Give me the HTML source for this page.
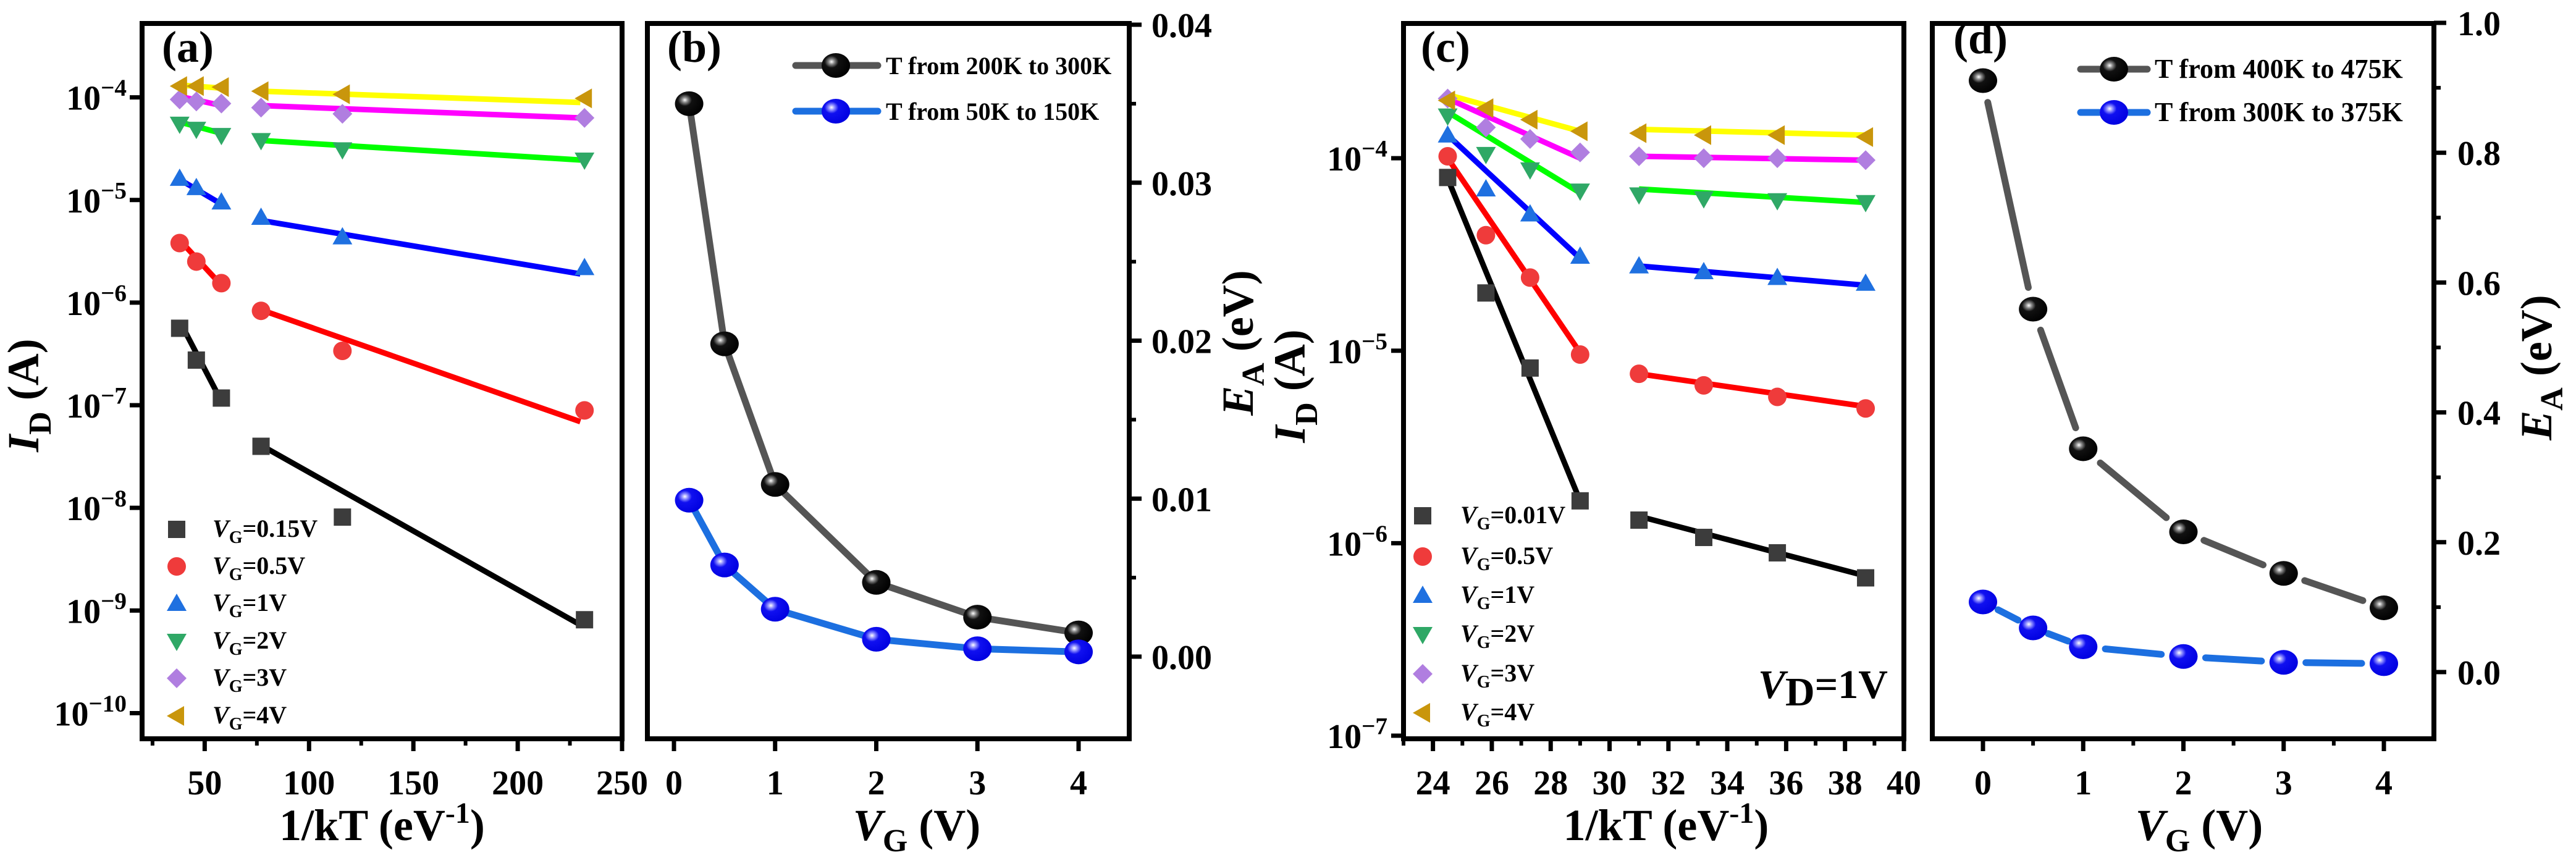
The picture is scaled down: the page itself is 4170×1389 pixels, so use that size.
<!DOCTYPE html>
<html><head><meta charset="utf-8"><style>
html,body{margin:0;padding:0;background:#fff;}
svg{display:block;font-family:"Liberation Serif",serif;font-weight:bold;}
</style></head><body>
<svg id="fig" width="4170" height="1389" viewBox="0 0 4170 1389" xmlns="http://www.w3.org/2000/svg">
<defs>
<radialGradient id="gBlack" cx="0.35" cy="0.35" r="0.7"><stop offset="0" stop-color="#fff"/><stop offset="0.15" stop-color="#888"/><stop offset="0.35" stop-color="#111"/><stop offset="1" stop-color="#000"/></radialGradient>
<radialGradient id="gBlue" cx="0.35" cy="0.35" r="0.7"><stop offset="0" stop-color="#fff"/><stop offset="0.15" stop-color="#9090ff"/><stop offset="0.35" stop-color="#1010f0"/><stop offset="1" stop-color="#0000e0"/></radialGradient>
</defs>
</svg>
<script>
// ---------- Panel (a) data ----------
const aX = [38, 46, 58, 77, 116, 232];
const aSeriesNames = ["0.15V","0.5V","1V","2V","3V","4V"];
const aLog015 = [-6.25,-6.56,-6.93,-7.40,-8.09,-9.09];
const aLog05  = [-5.42,-5.60,-5.81,-6.08,-6.47,-7.05];
const aLog1   = [-4.79,-4.88,-5.02,-5.17,-5.36,-5.66];
const aLog2   = [-4.26,-4.31,-4.37,-4.42,-4.51,-4.61];
const aLog3   = [-4.02,-4.04,-4.06,-4.10,-4.16,-4.20];
const aLog4   = [-3.89,-3.89,-3.90,-3.94,-3.97,-4.01];
const aFitX1 = [38,58]; const aFitX2 = [77,230];
const aFit1Log = [[-6.18,-6.96],[-5.39,-5.83],[-4.80,-5.04],[-4.24,-4.35],[-3.99,-4.08],[-3.88,-3.91]];
const aFit2Log = [[-7.39,-9.14],[-6.07,-7.16],[-5.20,-5.72],[-4.42,-4.61],[-4.08,-4.20],[-3.94,-4.05]];
const aXTicks = [50,100,150,200,250];
const aYTicks = [-10,-9,-8,-7,-6,-5,-4];
// ---------- Panel (b) data ----------
const bX = [0.15,0.5,1,2,3,4];
const bHigh = [0.0350,0.0198,0.0109,0.0047,0.0025,0.0015];
const bLow  = [0.0099,0.0058,0.0030,0.0011,0.0005,0.0003];
const bXTicks = [0,1,2,3,4];
const bYTicks = [0,0.01,0.02,0.03,0.04];
const bYTickLabels = ["0.00","0.01","0.02","0.03","0.04"];
// ---------- Panel (c) data ----------
const cX = [24.5,25.8,27.3,29.0,31.0,33.2,35.7,38.7];
const cSeriesNames = ["0.01V","0.5V","1V","2V","3V","4V"];
const cLog001 = [-4.10,-4.70,-5.09,-5.78,-5.88,-5.97,-6.05,-6.18];
const cLog05  = [-3.99,-4.40,-4.62,-5.02,-5.12,-5.18,-5.24,-5.30];
const cLog1   = [-3.88,-4.16,-4.29,-4.51,-4.56,-4.59,-4.62,-4.65];
const cLog2   = [-3.78,-3.98,-4.06,-4.17,-4.19,-4.21,-4.22,-4.23];
const cLog3   = [-3.69,-3.84,-3.90,-3.97,-3.99,-4.00,-4.00,-4.01];
const cLog4   = [-3.70,-3.74,-3.80,-3.86,-3.87,-3.88,-3.88,-3.89];
const cFitX1 = [24.5,29.0]; const cFitX2 = [31.0,38.7];
const cFit1Log = [[-4.105,-5.78],[-4.00,-5.01],[-3.88,-4.52],[-3.76,-4.18],[-3.69,-4.00],[-3.67,-3.86]];
const cFit2Log = [[-5.86,-6.17],[-5.12,-5.29],[-4.56,-4.66],[-4.16,-4.23],[-3.99,-4.01],[-3.85,-3.88]];
const cXTicks = [24,26,28,30,32,34,36,38,40];
const cYTicks = [-7,-6,-5,-4];
// ---------- Panel (d) data ----------
const dX = [0,0.5,1,2,3,4];
const dHigh = [0.911,0.559,0.344,0.216,0.152,0.099];
const dLow  = [0.108,0.068,0.039,0.024,0.015,0.013];
const dXTicks = [0,1,2,3,4];
const dYTicks = [0,0.2,0.4,0.6,0.8,1.0];
const dYTickLabels = ["0.0","0.2","0.4","0.6","0.8","1.0"];

const NS="http://www.w3.org/2000/svg";
const svg=document.getElementById('fig');
function el(tag,attrs,parent,txt){const e=document.createElementNS(NS,tag);for(const k in attrs)e.setAttribute(k,attrs[k]);if(txt!==undefined)e.textContent=txt;(parent||svg).appendChild(e);return e;}
function lin(d0,d1,r0,r1){return v=>r0+(v-d0)/(d1-d0)*(r1-r0);}
const TOP=38,BOT=1196,TF=56;

const markerFill=["#3c3c3c","#ef3b3b","#1f70e0","#2fa866","#b07ee0","#c9960c"];
const lineCol=["#000","#ff0000","#0000ff","#00ff00","#ff00ff","#ffff00"];
function marker(g,type,x,y,fill){
  const s=16;let m;
  if(type===0)m=el('rect',{x:x-s+2,y:y-s+2,width:2*s-4,height:2*s-4,fill:fill},g);
  else if(type===1)m=el('circle',{cx:x,cy:y,r:s-1,fill:fill},g);
  else if(type===2)m=el('polygon',{points:`${x},${y-s} ${x+s},${y+s*0.75} ${x-s},${y+s*0.75}`,fill:fill},g);
  else if(type===3)m=el('polygon',{points:`${x},${y+s} ${x+s},${y-s*0.75} ${x-s},${y-s*0.75}`,fill:fill},g);
  else if(type===4)m=el('polygon',{points:`${x},${y-s} ${x+s},${y} ${x},${y+s} ${x-s},${y}`,fill:fill},g);
  else m=el('polygon',{points:`${x-s},${y} ${x+s*0.75},${y-s} ${x+s*0.75},${y+s}`,fill:fill},g);
  
  
  return m;
}
function frame(x0,x1,name){
  const r=el('rect',{x:x0,y:TOP,width:x1-x0,height:BOT-TOP,fill:'none',stroke:'#000','stroke-width':8});
  
}
function label(x,y,txt,size,anchor,name){const t=el('text',{x:x,y:y,'font-size':size,'text-anchor':anchor||'middle'},svg,txt);return t;}
function powLabel(x,y,exp,size,name){
  const t=el('text',{x:x,y:y,'font-size':size,'text-anchor':'end'});
  
  el('tspan',{},t,'10');el('tspan',{dy:-size*0.4,'font-size':size*0.7},t,'\u2212'+Math.abs(exp));
}
function xtitle(cx,y,parts,name){
  const t=el('text',{x:cx,y:y,'font-size':72,'text-anchor':'middle'});
  
  parts.forEach(p=>el('tspan',p.a||{},t,p.s));
}
function rotTitle(cx,cy,parts,name){
  const t=el('text',{x:0,y:0,'font-size':72,'text-anchor':'middle',transform:`translate(${cx},${cy}) rotate(-90)`});
  
  parts.forEach(p=>el('tspan',p.a||{},t,p.s));
}

// ===== Panel (a) =====
(function(){
  const L=230,R=1007;const xs=lin(20,250,L,R);const ys=lin(-3.28,-10.25,TOP,BOT);
  frame(L,R,'panel-a');
  const g=el('g',{});
  aXTicks.forEach(v=>{el('line',{x1:xs(v),x2:xs(v),y1:BOT,y2:BOT+20,stroke:'#000','stroke-width':7},g);label(xs(v),BOT+90,String(v),TF,'middle','x-tick-label');});
  [25,75,125,175,225].forEach(v=>el('line',{x1:xs(v),x2:xs(v),y1:BOT,y2:BOT+11,stroke:'#000','stroke-width':6},g));
  aYTicks.forEach(v=>{el('line',{x1:L-20,x2:L,y1:ys(v),y2:ys(v),stroke:'#000','stroke-width':7},g);powLabel(205,ys(v)+20,v,TF,'y-tick-label');});
  const series=[aLog015,aLog05,aLog1,aLog2,aLog3,aLog4];
  series.forEach((s,i)=>{
    const f1=aFit1Log[i],f2=aFit2Log[i];
    const l1=el('line',{x1:xs(aFitX1[0]),y1:ys(f1[0]),x2:xs(aFitX1[1]),y2:ys(f1[1]),stroke:lineCol[i],'stroke-width':9},g);
    
    const l2=el('line',{x1:xs(aFitX2[0]),y1:ys(f2[0]),x2:xs(aFitX2[1]),y2:ys(f2[1]),stroke:lineCol[i],'stroke-width':9},g);
    
  });
  series.forEach((s,i)=>s.forEach((v,j)=>marker(g,i,xs(aX[j]),ys(v),markerFill[i])));
  const ly=[857,917,977,1038,1098,1159];
  aSeriesNames.forEach((n,i)=>{
    marker(g,i,286,ly[i],markerFill[i]);
    const t=el('text',{x:344,y:ly[i]+12,'font-size':40});
    
    el('tspan',{'font-style':'italic'},t,'V');el('tspan',{dy:10,'font-size':28},t,'G');el('tspan',{dy:-10},t,'='+n);
  });
  label(262,100,'(a)',72,'start','panel-label-a');
  xtitle(L+(R-L)/2,1360,[{s:'1/kT (eV'},{s:'-1',a:{dy:-28,'font-size':48}},{s:')',a:{dy:28}}],'x-axis-title-a');
  rotTitle(62,640,[{s:'I',a:{'font-style':'italic'}},{s:'D',a:{dy:20,'font-size':52}},{s:' (A)',a:{dy:-20}}],'y-axis-title-a');
})();

// ===== Panel (b) =====
(function(){
  const L=1048,R=1828;const xs=lin(0,4,1091,1746);const ys=lin(0,0.04,1063,40);
  frame(L,R,'panel-b');
  const g=el('g',{});
  bXTicks.forEach(v=>{el('line',{x1:xs(v),x2:xs(v),y1:BOT,y2:BOT+20,stroke:'#000','stroke-width':7},g);label(xs(v),BOT+90,String(v),TF,'middle','x-tick-label');});
  bYTicks.forEach((v,i)=>{el('line',{x1:R,x2:R+20,y1:ys(v),y2:ys(v),stroke:'#000','stroke-width':7},g);label(1864,ys(v)+20,bYTickLabels[i],TF,'start','y-tick-label');});
  [0.005,0.015,0.025,0.035].forEach(v=>el('line',{x1:R,x2:R+11,y1:ys(v),y2:ys(v),stroke:'#000','stroke-width':6},g));
  [[bHigh,'#555','gBlack'],[bLow,'#1c6fe0','gBlue']].forEach(([s,c,gr])=>{
    const p=el('polyline',{points:s.map((v,j)=>xs(bX[j])+','+ys(v)).join(' '),fill:'none',stroke:c,'stroke-width':11},g);
    
    s.forEach((v,j)=>{const m=el('ellipse',{cx:xs(bX[j]),cy:ys(v),rx:23,ry:20,fill:'url(#'+gr+')'},g);});
  });
  [[106,'#555','gBlack','T from 200K to 300K'],[180,'#1c6fe0','gBlue','T from 50K to 150K']].forEach(([y,c,gr,t])=>{
    el('line',{x1:1288,x2:1421,y1:y,y2:y,stroke:c,'stroke-width':11,'stroke-linecap':'round'},g);
    el('ellipse',{cx:1353,cy:y,rx:23,ry:20,fill:'url(#'+gr+')'},g);
    label(1434,y+14,t,40,'start','legend-entry');
  });
  label(1080,100,'(b)',72,'start','panel-label-b');
  xtitle(1484,1360,[{s:'V',a:{'font-style':'italic'}},{s:'G',a:{dy:18,'font-size':52}},{s:' (V)',a:{dy:-18}}],'x-axis-title-b');
  rotTitle(2028,555,[{s:'E',a:{'font-style':'italic'}},{s:'A',a:{dy:18,'font-size':52}},{s:' (eV)',a:{dy:-18}}],'y-axis-title-b');
})();

// ===== Panel (c) =====
(function(){
  const L=2272,R=3082;const xs=lin(23,40,L,R);const ys=lin(-3.3,-7,TOP,1191);
  frame(L,R,'panel-c');
  const g=el('g',{});
  cXTicks.forEach(v=>{el('line',{x1:xs(v),x2:xs(v),y1:BOT,y2:BOT+20,stroke:'#000','stroke-width':7},g);label(xs(v),BOT+90,String(v),TF,'middle','x-tick-label');});
  [23,25,27,29,31,33,35,37,39].forEach(v=>el('line',{x1:xs(v),x2:xs(v),y1:BOT,y2:BOT+11,stroke:'#000','stroke-width':6},g));
  cYTicks.forEach(v=>{el('line',{x1:L-20,x2:L,y1:ys(v),y2:ys(v),stroke:'#000','stroke-width':7},g);powLabel(2246,ys(v)+20,v,TF,'y-tick-label');});
  const series=[cLog001,cLog05,cLog1,cLog2,cLog3,cLog4];
  series.forEach((s,i)=>{
    const f1=cFit1Log[i],f2=cFit2Log[i];
    const l1=el('line',{x1:xs(cFitX1[0]),y1:ys(f1[0]),x2:xs(cFitX1[1]),y2:ys(f1[1]),stroke:lineCol[i],'stroke-width':9},g);
    
    const l2=el('line',{x1:xs(cFitX2[0]),y1:ys(f2[0]),x2:xs(cFitX2[1]),y2:ys(f2[1]),stroke:lineCol[i],'stroke-width':9},g);
    
  });
  series.forEach((s,i)=>s.forEach((v,j)=>marker(g,i,xs(cX[j]),ys(v),markerFill[i])));
  const ly=[835,901,964,1027,1091,1154];
  cSeriesNames.forEach((n,i)=>{
    marker(g,i,2303,ly[i],markerFill[i]);
    const t=el('text',{x:2364,y:ly[i]+12,'font-size':40});
    
    el('tspan',{'font-style':'italic'},t,'V');el('tspan',{dy:10,'font-size':28},t,'G');el('tspan',{dy:-10},t,'='+n);
  });
  const vd=el('text',{x:2846,y:1130,'font-size':66});
  
  el('tspan',{'font-style':'italic'},vd,'V');el('tspan',{dy:12},vd,'D');el('tspan',{dy:-12},vd,'=1V');
  label(2300,100,'(c)',72,'start','panel-label-c');
  xtitle(2697,1360,[{s:'1/kT (eV'},{s:'-1',a:{dy:-28,'font-size':48}},{s:')',a:{dy:28}}],'x-axis-title-c');
  rotTitle(2112,625,[{s:'I',a:{'font-style':'italic'}},{s:'D',a:{dy:20,'font-size':52}},{s:' (A)',a:{dy:-20}}],'y-axis-title-c');
})();

// ===== Panel (d) =====
(function(){
  const L=3128,R=3940;const xs=lin(0,4,3210,3859);const ys=lin(0,1,1088,37);
  frame(L,R,'panel-d');
  const g=el('g',{});
  dXTicks.forEach(v=>{el('line',{x1:xs(v),x2:xs(v),y1:BOT,y2:BOT+20,stroke:'#000','stroke-width':7},g);label(xs(v),BOT+90,String(v),TF,'middle','x-tick-label');});
  [0.5,1.5,2.5,3.5].forEach(v=>el('line',{x1:xs(v),x2:xs(v),y1:BOT,y2:BOT+11,stroke:'#000','stroke-width':6},g));
  dYTicks.forEach((v,i)=>{el('line',{x1:R,x2:R+20,y1:ys(v),y2:ys(v),stroke:'#000','stroke-width':7},g);label(3978,ys(v)+20,dYTickLabels[i],TF,'start','y-tick-label');});
  [0.1,0.3,0.5,0.7,0.9].forEach(v=>el('line',{x1:R,x2:R+11,y1:ys(v),y2:ys(v),stroke:'#000','stroke-width':6},g));
  [[dHigh,'#555','gBlack'],[dLow,'#1c6fe0','gBlue']].forEach(([s,c,gr])=>{
    for(let j=0;j<s.length-1;j++){
      const x1=xs(dX[j]),y1=ys(s[j]),x2=xs(dX[j+1]),y2=ys(s[j+1]);
      const dx=x2-x1,dy=y2-y1,len=Math.hypot(dx,dy),gap=Math.min(36,len*0.3);
      const ux=dx/len,uy=dy/len;
      const seg=el('line',{x1:x1+ux*gap,y1:y1+uy*gap,x2:x2-ux*gap,y2:y2-uy*gap,stroke:c,'stroke-width':11,'stroke-linecap':'round'},g);
      
    }
    s.forEach((v,j)=>{const m=el('ellipse',{cx:xs(dX[j]),cy:ys(v),rx:23,ry:20,fill:'url(#'+gr+')'},g);});
  });
  [[112,'#555','gBlack','T from 400K to 475K'],[182,'#1c6fe0','gBlue','T from 300K to 375K']].forEach(([y,c,gr,t])=>{
    el('line',{x1:3368,x2:3476,y1:y,y2:y,stroke:c,'stroke-width':11,'stroke-linecap':'round'},g);
    el('ellipse',{cx:3422,cy:y,rx:23,ry:20,fill:'#fff'},g);
    el('ellipse',{cx:3422,cy:y,rx:23,ry:20,fill:'url(#'+gr+')'},g);
    label(3488,y+14,t,44,'start','legend-entry');
  });
  label(3162,86,'(d)',72,'start','panel-label-d');
  xtitle(3560,1360,[{s:'V',a:{'font-style':'italic'}},{s:'G',a:{dy:18,'font-size':52}},{s:' (V)',a:{dy:-18}}],'x-axis-title-d');
  rotTitle(4130,595,[{s:'E',a:{'font-style':'italic'}},{s:'A',a:{dy:18,'font-size':52}},{s:' (eV)',a:{dy:-18}}],'y-axis-title-d');
})();
</script>
</body></html>
